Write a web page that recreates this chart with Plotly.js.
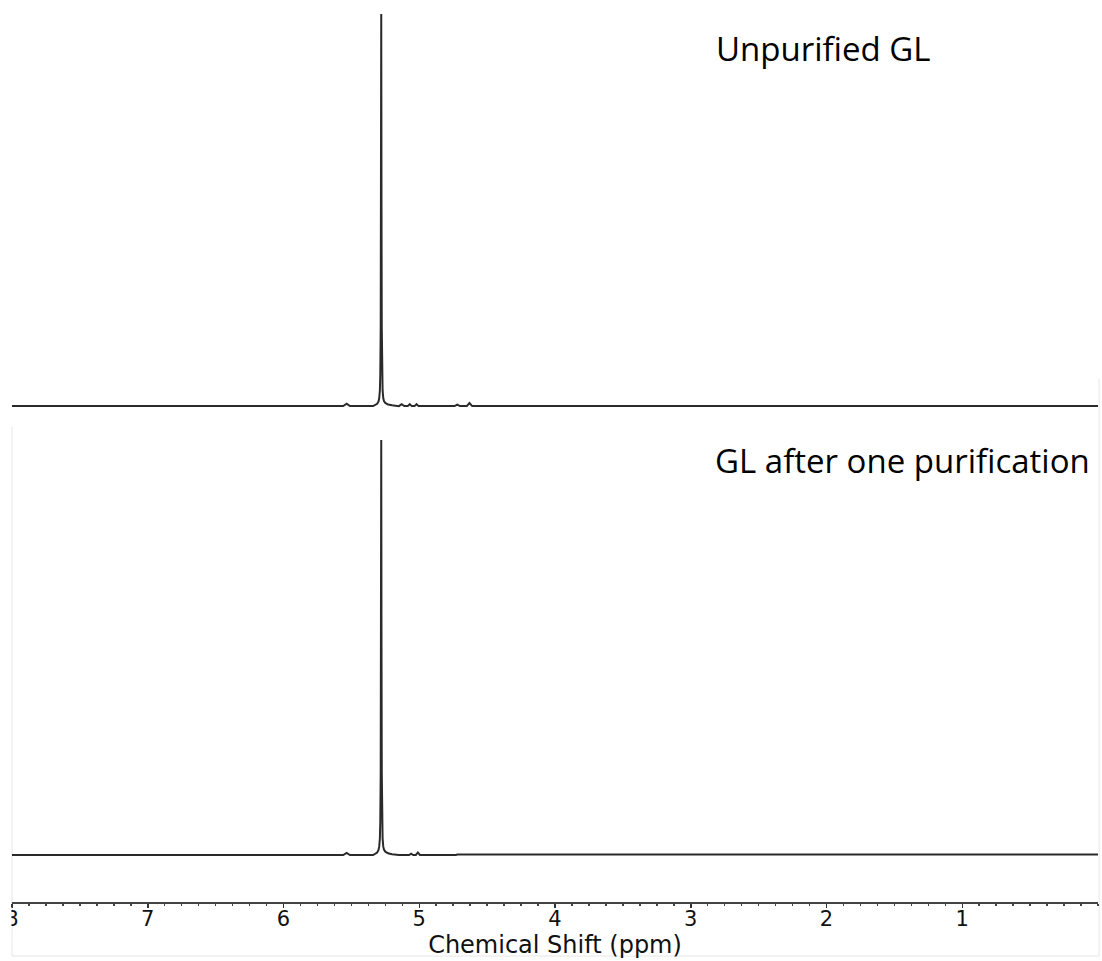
<!DOCTYPE html>
<html>
<head>
<meta charset="utf-8">
<script src="https://cdn.plot.ly/plotly-3.0.1.min.js"></script>
<style>html,body{margin:0;padding:0;background:#fff;}#chart{width:1102px;height:961px;}</style>
</head>
<body>
<div id="chart"></div>
<script>
// Chemical shift (ppm) and relative intensity
const ppmTop = [8.0, 5.56, 5.535, 5.51, 5.34, 5.31, 5.30, 5.295, 5.29, 5.287, 5.284, 5.282, 5.28, 5.278, 5.276, 5.273, 5.27, 5.265, 5.26, 5.25, 5.23, 5.20, 5.15, 5.13, 5.11, 5.085, 5.07, 5.055, 5.035, 5.02, 5.005, 4.74, 4.72, 4.70, 4.65, 4.63, 4.61, 0.0];
const intTop = [0, 0, 0.6, 0, 0, 0.6, 1.2, 2, 4, 8, 20, 50, 100, 50, 20, 8, 4, 2, 1.3, 0.8, 0.4, 0.2, 0, 0.5, 0, 0, 0.5, 0, 0, 0.5, 0, 0, 0.4, 0, 0, 0.8, 0, 0];

const ppmBottom = [8.0, 5.56, 5.535, 5.51, 5.34, 5.31, 5.30, 5.295, 5.29, 5.287, 5.284, 5.282, 5.28, 5.278, 5.276, 5.273, 5.27, 5.265, 5.26, 5.25, 5.23, 5.20, 5.15, 5.075, 5.06, 5.045, 5.025, 5.01, 4.995, 4.73, 4.72, 0.0];
const intBottom = [0, 0, 0.5, 0, 0, 0.6, 1.2, 2, 4, 8, 20, 50, 100, 50, 20, 8, 4, 2, 1.3, 0.8, 0.4, 0.2, 0, 0, 0.3, 0, 0, 0.6, 0, 0, 0.1, 0.1];

const tickValues = [8, 7, 6, 5, 4, 3, 2, 1];
const tickLabels = ['8', '7', '6', '5', '4', '3', '2', '1'];
const sampleLabels = ['Unpurified GL', 'GL after one purification'];
const axisTitle = 'Chemical Shift (ppm)';

const lineStyle = {color: '#2a2a2a', width: 2};

const traces = [
  {x: ppmTop, y: intTop, type: 'scatter', mode: 'lines', line: lineStyle, yaxis: 'y2', hoverinfo: 'skip'},
  {x: ppmBottom, y: intBottom, type: 'scatter', mode: 'lines', line: lineStyle, yaxis: 'y', hoverinfo: 'skip'}
];

const layout = {
  width: 1102, height: 961,
  margin: {l: 12, r: 4, t: 0, b: 59},
  paper_bgcolor: '#ffffff', plot_bgcolor: 'rgba(0,0,0,0)',
  showlegend: false,
  xaxis: {
    range: [8, 0], domain: [0, 1], anchor: 'y',
    showline: true, linecolor: '#444', linewidth: 1.5,
    showgrid: false, zeroline: false,
    ticks: 'outside', ticklen: 4, tickwidth: 1.5, tickcolor: '#333',
    tickmode: 'array', tickvals: tickValues, ticktext: tickLabels,
    ticklabelstandoff: -7,
    minor: {tick0: 0, dtick: 0.125, ticks: 'outside', ticklen: 2.5, tickwidth: 1.5, tickcolor: '#444', showgrid: false},
    tickfont: {family: 'DejaVu Sans, sans-serif', size: 21, color: '#111'},
    title: {text: axisTitle, font: {family: 'DejaVu Sans, sans-serif', size: 24, color: '#111'}, standoff: 0},
    automargin: false
  },
  yaxis: {domain: [0, 1], range: [-11.33, 206.0], visible: false, fixedrange: true},
  yaxis2: {domain: [0, 1], range: [-126.5, 103.6], overlaying: 'y', visible: false, fixedrange: true},
  annotations: [
    {text: sampleLabels[0], xref: 'paper', yref: 'paper', x: 0.6465, y: 0.9457, xanchor: 'left', yanchor: 'middle',
     showarrow: false, font: {family: 'Open Sans, sans-serif', size: 33, color: '#000'}},
    {text: sampleLabels[1], xref: 'paper', yref: 'paper', x: 0.6455, y: 0.49, xanchor: 'left', yanchor: 'middle',
     showarrow: false, font: {family: 'Open Sans, sans-serif', size: 33, color: '#000'}}
  ],
  shapes: [
    {type: 'path', xref: 'paper', yref: 'paper', path: 'M 0 0.5266 L 0 -0.0599 L 1.001 -0.0599 L 1.001 0.58',
     line: {color: '#e6e6e6', width: 1}, layer: 'below'},
    {type: 'rect', xref: 'paper', yref: 'paper', x0: -0.03, x1: -0.0005, y0: -0.0055, y1: -0.045,
     fillcolor: '#ffffff', line: {width: 0}, layer: 'above'}
  ]
};

Plotly.newPlot('chart', traces, layout, {staticPlot: true, displayModeBar: false});
</script>
</body>
</html>
